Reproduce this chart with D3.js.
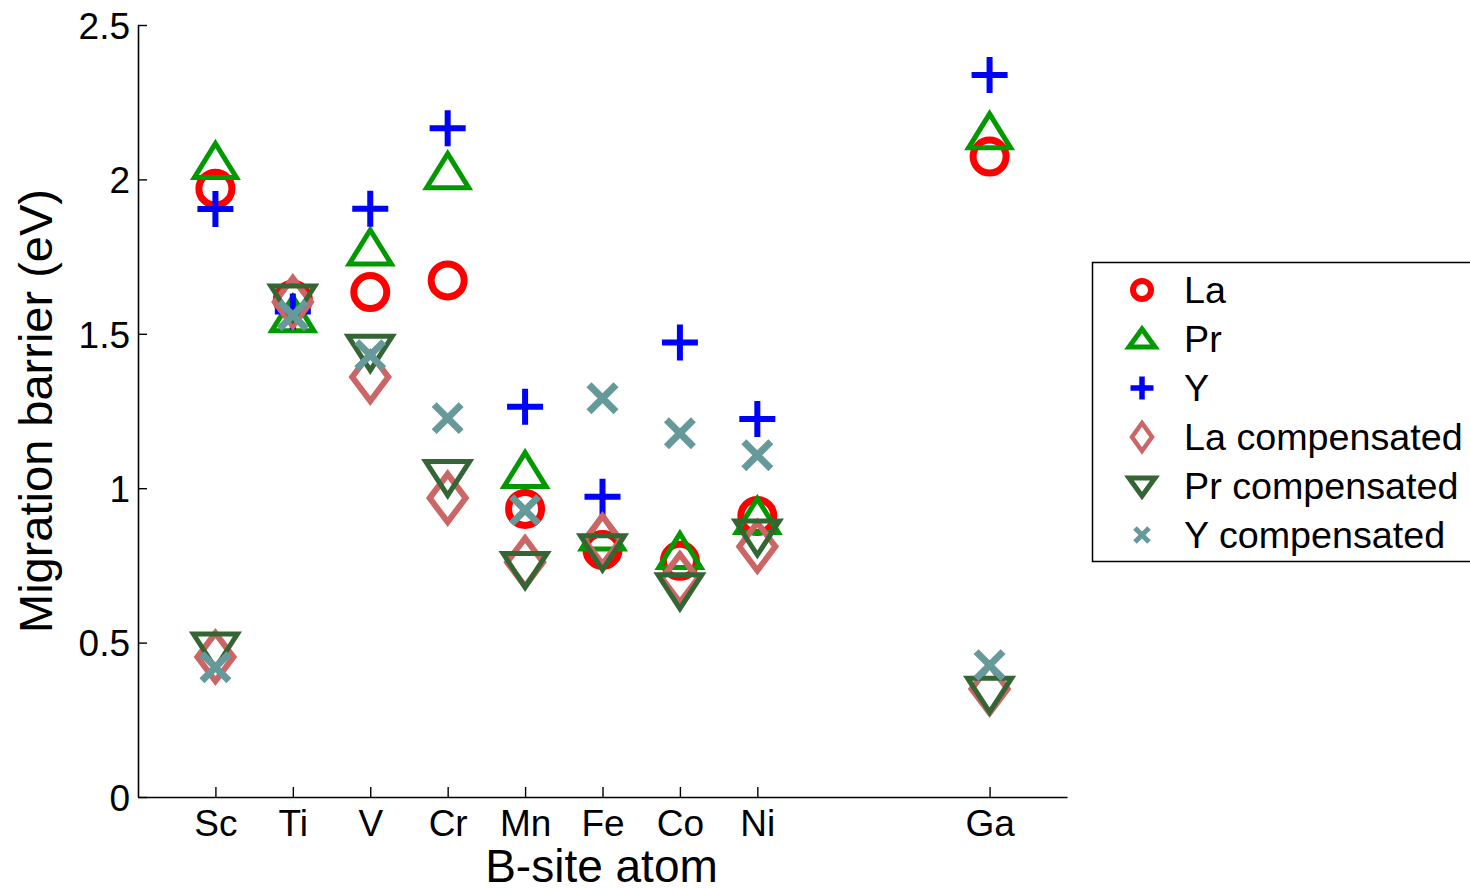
<!DOCTYPE html>
<html>
<head>
<meta charset="utf-8">
<script src="https://cdn.jsdelivr.net/npm/d3@7"></script>
<style>
  html, body { margin: 0; padding: 0; background: #fff; }
  svg { display: block; font-family: Arial, "Liberation Sans", sans-serif; }
</style>
</head>
<body>
<svg id="chart" width="1470" height="888"></svg>
<script>
// B-site dopant atoms and their positions along the x axis
const categories = ["Sc", "Ti", "V", "Cr", "Mn", "Fe", "Co", "Ni", "Ga"];
const xIndex = [1, 2, 3, 4, 5, 6, 7, 8, 11];

// Migration barriers (eV) per A-site variant
const laValues     = [1.97, 1.61, 1.635, 1.673, 0.933, 0.80, 0.765, 0.91, 2.074];
const prValues     = [2.058, 1.562, 1.778, 2.025, 1.057, 0.855, 0.795, 0.908, 2.154];
const yValues      = [1.904, 1.572, 1.905, 2.166, 1.264, 0.972, 1.472, 1.224, 2.338];
const laCompValues = [0.453, 1.603, 1.36, 0.968, 0.76, 0.832, 0.708, 0.811, 0.35];
const prCompValues = [0.476, 1.603, 1.44, 1.035, 0.737, 0.794, 0.668, 0.842, 0.333];
const yCompValues  = [0.42, 1.56, 1.431, 1.227, 0.929, 1.291, 1.178, 1.107, 0.427];

const yTicks = [0, 0.5, 1, 1.5, 2, 2.5];
const yTickLabels = ["0", "0.5", "1", "1.5", "2", "2.5"];

const seriesNames = ["La", "Pr", "Y", "La compensated", "Pr compensated", "Y compensated"];
const seriesValues = [laValues, prValues, yValues, laCompValues, prCompValues, yCompValues];
const seriesMarkers = ["circle", "triUp", "plus", "diamond", "triDown", "cross"];
const seriesColors = ["#ff0000", "#009900", "#0000ff", "#cc6666", "#336633", "#669999"];

// marker geometry: full size on the plot, reduced in the legend
const plotGeom = {
  circle:  { r: 16.5, sw: 7 },
  triUp:   { w: 21, h: 17, sw: 5 },
  plus:    { a: 18, sw: 6 },
  diamond: { w: 18, h: 24, sw: 6 },
  triDown: { w: 22, h: 17, sw: 5 },
  cross:   { a: 13.5, sw: 7 }
};
const legendGeom = {
  circle:  { r: 9, sw: 6 },
  triUp:   { w: 13, h: 9, sw: 5 },
  plus:    { a: 11.5, sw: 5.5 },
  diamond: { w: 10, h: 14, sw: 4.5 },
  triDown: { w: 13, h: 9, sw: 5 },
  cross:   { a: 7, sw: 5 }
};

function markerPath(kind, g) {
  switch (kind) {
    case "circle": {
      const p = d3.path(); p.arc(0, 0, g.r, 0, 2 * Math.PI); p.closePath(); return p.toString();
    }
    case "triUp":   return `M0,${-g.h - 1}L${g.w},${g.h - 1}L${-g.w},${g.h - 1}Z`;
    case "triDown": return `M0,${g.h + 1}L${g.w},${-g.h + 1}L${-g.w},${-g.h + 1}Z`;
    case "diamond": return `M0,${-g.h}L${g.w},0L0,${g.h}L${-g.w},0Z`;
    case "plus":    return `M${-g.a},0H${g.a}M0,${-g.a}V${g.a}`;
    case "cross":   return `M${-g.a},${-g.a}L${g.a},${g.a}M${-g.a},${g.a}L${g.a},${-g.a}`;
  }
}

const svg = d3.select("#chart");
const plot = { left: 138, right: 1067, top: 25, bottom: 797 };

const x = d3.scaleLinear().domain([0, 12]).range([plot.left, plot.right]);
const y = d3.scaleLinear().domain([0, 2.5]).range([plot.bottom, plot.top]);

// markers
seriesValues.forEach((vals, si) => {
  const kind = seriesMarkers[si];
  const g = plotGeom[kind];
  svg.append("g")
    .selectAll("path")
    .data(vals)
    .join("path")
    .attr("transform", (d, i) => `translate(${x(xIndex[i])},${y(d)})`)
    .attr("d", markerPath(kind, g))
    .attr("fill", "none")
    .attr("stroke", seriesColors[si])
    .attr("stroke-width", g.sw)
    .attr("stroke-linejoin", "miter")
    .attr("stroke-linecap", "butt");
});

// axes with inward ticks
const yAxis = d3.axisLeft(y)
  .tickValues(yTicks)
  .tickFormat((d, i) => yTickLabels[i])
  .tickSizeInner(-9).tickSizeOuter(0).tickPadding(8);
const xAxis = d3.axisBottom(x)
  .tickValues(xIndex)
  .tickFormat((d, i) => categories[i])
  .tickSizeInner(-10).tickSizeOuter(0).tickPadding(13);

const gy = svg.append("g").attr("transform", `translate(${plot.left},0)`).call(yAxis);
const gx = svg.append("g").attr("transform", `translate(0,${plot.bottom})`).call(xAxis);

[gx, gy].forEach(g => {
  g.attr("font-family", null).attr("font-size", null);
  g.select(".domain").attr("stroke", "#000").attr("stroke-width", 1.6);
  g.selectAll(".tick line").attr("stroke", "#000").attr("stroke-width", 1.4);
  g.selectAll(".tick text").attr("fill", "#000").style("font-size", "37px");
});
gy.selectAll(".tick text").attr("dy", "0.36em");

// axis titles
svg.append("text")
  .attr("x", (plot.left + plot.right) / 2 - 1)
  .attr("y", 882)
  .attr("text-anchor", "middle")
  .style("font-size", "46px")
  .text("B-site atom");

svg.append("text")
  .attr("transform", `translate(52,${(plot.top + plot.bottom) / 2}) rotate(-90)`)
  .attr("text-anchor", "middle")
  .style("font-size", "47px")
  .text("Migration barrier (eV)");

// legend
const legend = svg.append("g");
legend.append("rect")
  .attr("x", 1092.5).attr("y", 262.5)
  .attr("width", 400).attr("height", 299)
  .attr("fill", "#fff").attr("stroke", "#000").attr("stroke-width", 1.5);

seriesNames.forEach((name, si) => {
  const cy = 290 + si * 49;
  const kind = seriesMarkers[si];
  const g = legendGeom[kind];
  legend.append("path")
    .attr("transform", `translate(1142,${cy})`)
    .attr("d", markerPath(kind, g))
    .attr("fill", "none")
    .attr("stroke", seriesColors[si])
    .attr("stroke-width", g.sw)
    .attr("stroke-linejoin", "miter");
  legend.append("text")
    .attr("x", 1184).attr("y", cy + 13)
    .style("font-size", "37.7px")
    .text(name);
});
</script>
</body>
</html>
